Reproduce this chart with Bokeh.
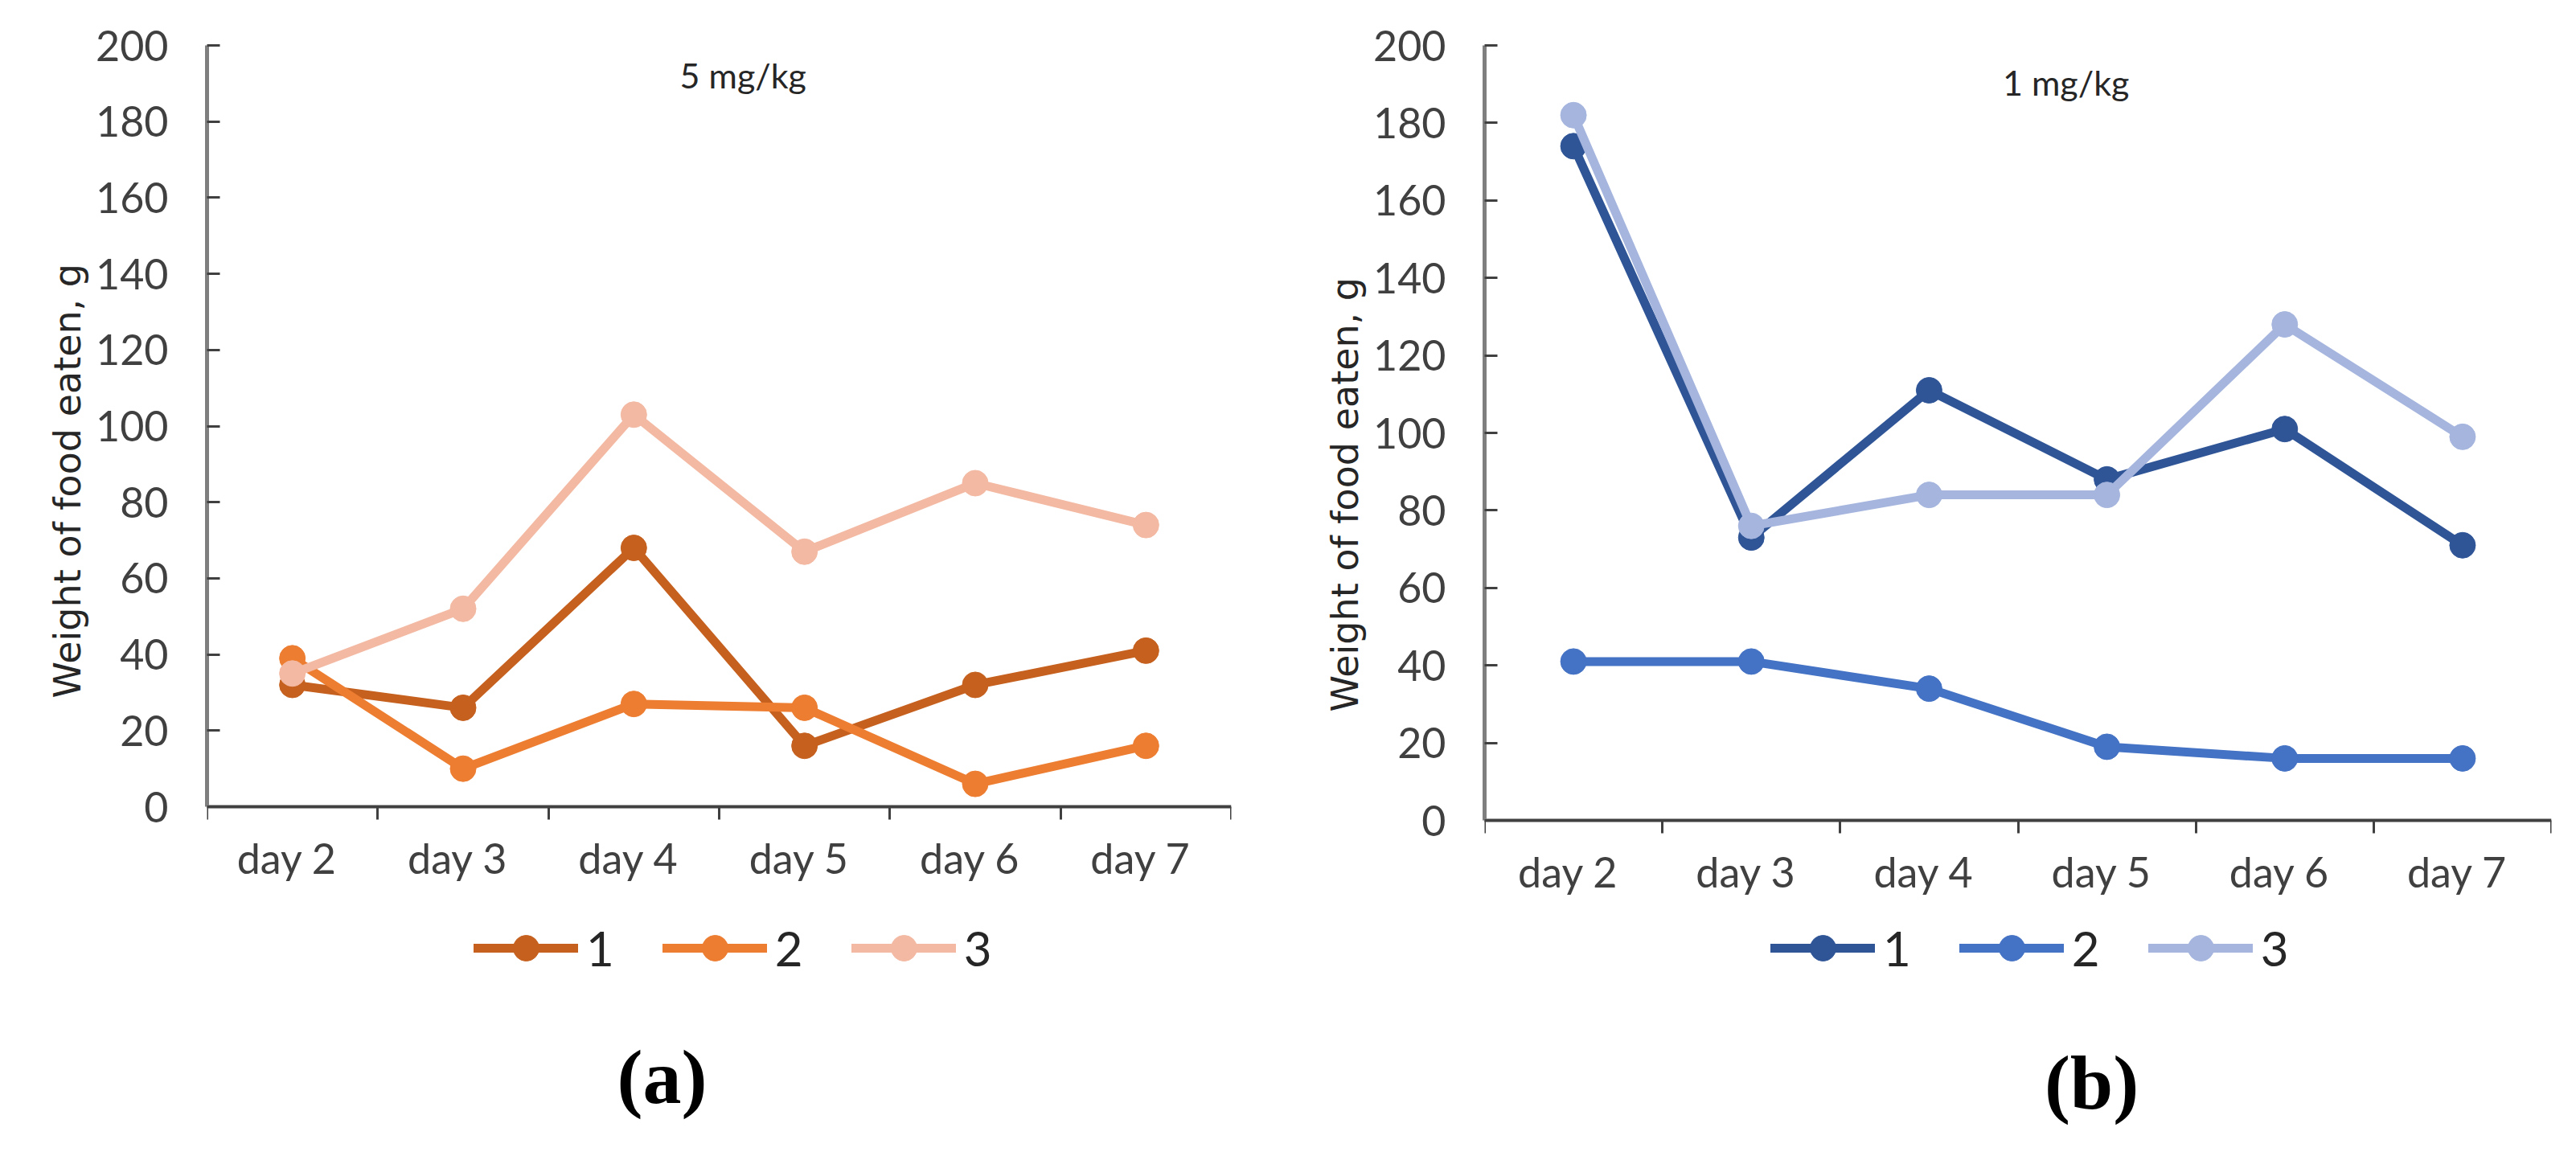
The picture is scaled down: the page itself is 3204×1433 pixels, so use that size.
from bokeh.plotting import figure
from bokeh.layouts import row
from bokeh.models import Range1d, FixedTicker, Legend, LegendItem, Label, Title
from bokeh.embed import file_html
from bokeh.resources import INLINE

days = ["day  2", "day  3", "day  4", "day  5", "day  6", "day  7"]
series_names = ["1", "2", "3"]

# (a) 5 mg/kg
a_s1 = [32, 26, 68, 16, 32, 41]
a_s2 = [39, 10, 27, 26, 6, 16]
a_s3 = [35, 52, 103, 67, 85, 74]

# (b) 1 mg/kg
b_s1 = [174, 73, 111, 88, 101, 71]
b_s2 = [41, 41, 34, 19, 16, 16]
b_s3 = [182, 76, 84, 84, 128, 99]

y_ticks = list(range(0, 201, 20))
Y_MAX = 200

a_colors = ["#C5601E", "#ED7D31", "#F3B9A2"]
b_colors = ["#2F5597", "#4472C4", "#A5B5DE"]

TICK_FONT = "Lato"
Y_LABEL = "Weight of food eaten, g"

WIN_H = 1433


def make_panel(series, colors, title_text, title_pos, panel_label, panel_pos,
               ylabel_offset, legend_loc, left, top, axis_px, fw, total_w):
    # axis_px: pixel height of the 0..200 span; frame extends below 0 down to window bottom
    xs = [i + 0.5 for i in range(len(days))]
    fh = WIN_H - top
    px_per_unit = axis_px / Y_MAX
    y_min = -(fh - axis_px) / px_per_unit
    p = figure(output_backend="svg", toolbar_location=None,
               frame_width=fw, frame_height=fh,
               min_border_left=left, min_border_top=top,
               min_border_right=total_w - left - fw,
               min_border_bottom=0,
               x_range=Range1d(0, len(days)), y_range=Range1d(y_min, Y_MAX))
    p.outline_line_color = None
    p.xgrid.visible = False
    p.ygrid.visible = False
    p.background_fill_color = "white"
    p.border_fill_color = "white"

    # y axis
    yax = p.yaxis[0]
    yax.bounds = (0, Y_MAX)
    yax.ticker = FixedTicker(ticks=y_ticks)
    yax.axis_line_color = "#7F7F7F"
    yax.axis_line_width = 5
    yax.major_tick_in = 16
    yax.major_tick_out = 0
    yax.major_tick_line_color = "#404040"
    yax.major_tick_line_width = 3
    yax.minor_tick_line_color = None
    yax.major_label_text_font = TICK_FONT
    yax.major_label_text_font_size = "52px"
    yax.major_label_text_color = "#404040"
    yax.major_label_standoff = 48

    # x axis at y = 0: labels at category centres, ticks at category boundaries
    xax = p.xaxis[0]
    xax.fixed_location = 0
    xax.ticker = FixedTicker(ticks=xs, minor_ticks=list(range(len(days) + 1)))
    xax.major_label_overrides = {x: d for x, d in zip(xs, days)}
    xax.axis_line_color = "#404040"
    xax.axis_line_width = 4
    xax.major_tick_line_color = None
    xax.major_tick_in = 0
    xax.major_tick_out = 0
    xax.minor_tick_line_color = "#404040"
    xax.minor_tick_line_width = 3
    xax.minor_tick_in = 0
    xax.minor_tick_out = 16
    xax.major_label_text_font = TICK_FONT
    xax.major_label_text_font_size = "52px"
    xax.major_label_text_color = "#404040"
    xax.major_label_standoff = 16

    items = []
    for vals, col, name in zip(series, colors, series_names):
        l = p.line(xs, vals, line_color=col, line_width=11, line_cap="round", line_join="round")
        c = p.scatter(xs, vals, size=32, fill_color=col, line_color=col)
        items.append(LegendItem(label=name, renderers=[l, c]))

    lg = Legend(items=items, orientation="horizontal", location=legend_loc,
                glyph_width=130, glyph_height=80, label_standoff=10, spacing=60,
                label_text_font=TICK_FONT, label_text_font_size="60px",
                label_text_color="#262626", border_line_color=None,
                background_fill_alpha=0, padding=0, margin=0)
    p.add_layout(lg, "center")

    # y axis title as a side title (so it can be shifted along the axis)
    p.add_layout(Title(text=Y_LABEL, align="left", offset=ylabel_offset,
                       text_font="DejaVu Sans", text_font_size="46px",
                       text_font_style="normal", text_color="#262626", standoff=12), "left")

    # panel title inside the plot
    p.add_layout(Label(x=title_pos[0], y=title_pos[1], text=title_text, text_align="center",
                       text_font=TICK_FONT, text_font_size="43px", text_color="#262626"))

    # sub-figure label
    p.add_layout(Label(x=panel_pos[0], y=panel_pos[1], text=panel_label,
                       text_align="center", text_baseline="middle",
                       text_font="Liberation Serif", text_font_style="bold",
                       text_font_size="96px", text_color="black"))
    return p


p1 = make_panel([a_s1, a_s2, a_s3], a_colors, "5 mg/kg", (3.14, 186.8), "(a)", (2.666, -71.0),
                565, (332, 214), 257, 56, 947, 1274, 1602)
p2 = make_panel([b_s1, b_s2, b_s3], b_colors, "1 mg/kg", (3.27, 185.2), "(b)", (3.414, -67.6),
                555, (356, 165), 244, 49, 964, 1327, 1602)

layout = row(p1, p2, spacing=0)
open("out.html", "w").write(file_html(layout, INLINE))
